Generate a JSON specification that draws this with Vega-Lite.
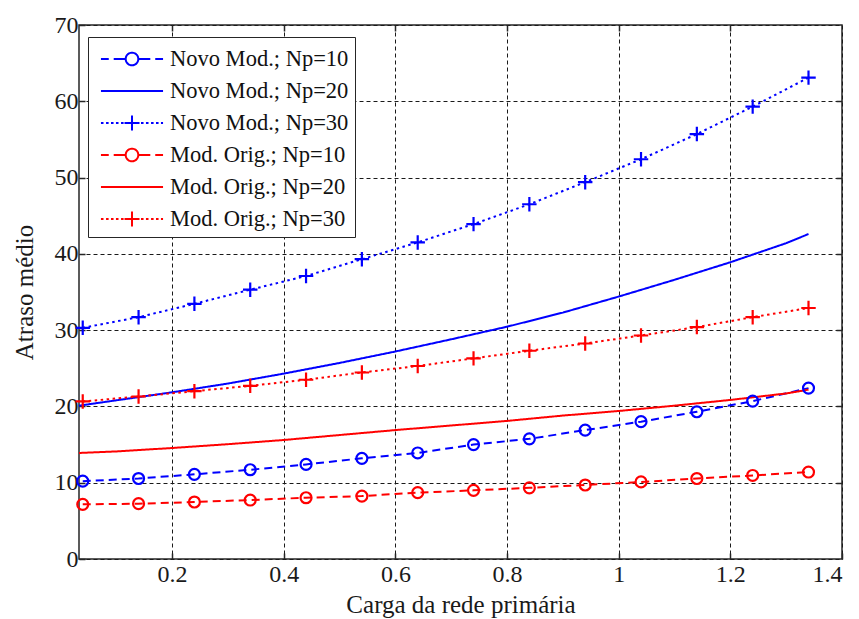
{
  "$schema": "https://vega.github.io/schema/vega-lite/v6.json",
  "width": 763,
  "height": 534,
  "autosize": {"type": "none"},
  "padding": {"left": 79, "top": 25, "right": 17, "bottom": 60},
  "background": "white",
  "config": {
    "font": "Liberation Serif",
    "view": {"stroke": "#262626", "strokeWidth": 1.5},
    "axis": {
      "labelFont": "Liberation Serif", "labelFontSize": 24, "labelColor": "#1a1a1a",
      "titleFont": "Liberation Serif", "titleFontSize": 25, "titleFontWeight": "normal", "titleColor": "#1a1a1a",
      "domain": false, "tickColor": "#262626", "tickSize": -6, "tickWidth": 1.5,
      "gridColor": "#1a1a1a", "gridDash": [4, 3], "gridWidth": 1, "gridOpacity": 1
    }
  },
  "data": {"values": [
    {"s": "Novo Mod.; Np=10", "x": 0.04, "y": 10.2},
    {"s": "Novo Mod.; Np=10", "x": 0.14, "y": 10.55},
    {"s": "Novo Mod.; Np=10", "x": 0.24, "y": 11.1},
    {"s": "Novo Mod.; Np=10", "x": 0.34, "y": 11.7},
    {"s": "Novo Mod.; Np=10", "x": 0.44, "y": 12.4},
    {"s": "Novo Mod.; Np=10", "x": 0.54, "y": 13.2},
    {"s": "Novo Mod.; Np=10", "x": 0.64, "y": 13.9},
    {"s": "Novo Mod.; Np=10", "x": 0.74, "y": 15.0},
    {"s": "Novo Mod.; Np=10", "x": 0.84, "y": 15.75},
    {"s": "Novo Mod.; Np=10", "x": 0.94, "y": 16.9},
    {"s": "Novo Mod.; Np=10", "x": 1.04, "y": 18.0},
    {"s": "Novo Mod.; Np=10", "x": 1.14, "y": 19.3},
    {"s": "Novo Mod.; Np=10", "x": 1.24, "y": 20.7},
    {"s": "Novo Mod.; Np=10", "x": 1.34, "y": 22.4},
    {"s": "Novo Mod.; Np=20", "x": 0.0333, "y": 20.1},
    {"s": "Novo Mod.; Np=20", "x": 0.1, "y": 20.8},
    {"s": "Novo Mod.; Np=20", "x": 0.2, "y": 21.85},
    {"s": "Novo Mod.; Np=20", "x": 0.3, "y": 23.0},
    {"s": "Novo Mod.; Np=20", "x": 0.4, "y": 24.3},
    {"s": "Novo Mod.; Np=20", "x": 0.5, "y": 25.7},
    {"s": "Novo Mod.; Np=20", "x": 0.6, "y": 27.2},
    {"s": "Novo Mod.; Np=20", "x": 0.7, "y": 28.8},
    {"s": "Novo Mod.; Np=20", "x": 0.8, "y": 30.45},
    {"s": "Novo Mod.; Np=20", "x": 0.9, "y": 32.3},
    {"s": "Novo Mod.; Np=20", "x": 1.0, "y": 34.4},
    {"s": "Novo Mod.; Np=20", "x": 1.1, "y": 36.6},
    {"s": "Novo Mod.; Np=20", "x": 1.2, "y": 38.9},
    {"s": "Novo Mod.; Np=20", "x": 1.3, "y": 41.4},
    {"s": "Novo Mod.; Np=20", "x": 1.34, "y": 42.6},
    {"s": "Novo Mod.; Np=30", "x": 0.04, "y": 30.3},
    {"s": "Novo Mod.; Np=30", "x": 0.14, "y": 31.7},
    {"s": "Novo Mod.; Np=30", "x": 0.24, "y": 33.45},
    {"s": "Novo Mod.; Np=30", "x": 0.34, "y": 35.3},
    {"s": "Novo Mod.; Np=30", "x": 0.44, "y": 37.1},
    {"s": "Novo Mod.; Np=30", "x": 0.54, "y": 39.3},
    {"s": "Novo Mod.; Np=30", "x": 0.64, "y": 41.5},
    {"s": "Novo Mod.; Np=30", "x": 0.74, "y": 43.9},
    {"s": "Novo Mod.; Np=30", "x": 0.84, "y": 46.5},
    {"s": "Novo Mod.; Np=30", "x": 0.94, "y": 49.4},
    {"s": "Novo Mod.; Np=30", "x": 1.04, "y": 52.4},
    {"s": "Novo Mod.; Np=30", "x": 1.14, "y": 55.7},
    {"s": "Novo Mod.; Np=30", "x": 1.24, "y": 59.3},
    {"s": "Novo Mod.; Np=30", "x": 1.34, "y": 63.1},
    {"s": "Mod. Orig.; Np=10", "x": 0.04, "y": 7.17},
    {"s": "Mod. Orig.; Np=10", "x": 0.14, "y": 7.25},
    {"s": "Mod. Orig.; Np=10", "x": 0.24, "y": 7.47},
    {"s": "Mod. Orig.; Np=10", "x": 0.34, "y": 7.73},
    {"s": "Mod. Orig.; Np=10", "x": 0.44, "y": 8.03},
    {"s": "Mod. Orig.; Np=10", "x": 0.54, "y": 8.25},
    {"s": "Mod. Orig.; Np=10", "x": 0.64, "y": 8.7},
    {"s": "Mod. Orig.; Np=10", "x": 0.74, "y": 9.0},
    {"s": "Mod. Orig.; Np=10", "x": 0.84, "y": 9.33},
    {"s": "Mod. Orig.; Np=10", "x": 0.94, "y": 9.7},
    {"s": "Mod. Orig.; Np=10", "x": 1.04, "y": 10.1},
    {"s": "Mod. Orig.; Np=10", "x": 1.14, "y": 10.55},
    {"s": "Mod. Orig.; Np=10", "x": 1.24, "y": 10.95},
    {"s": "Mod. Orig.; Np=10", "x": 1.34, "y": 11.4},
    {"s": "Mod. Orig.; Np=20", "x": 0.0333, "y": 13.9},
    {"s": "Mod. Orig.; Np=20", "x": 0.1, "y": 14.1},
    {"s": "Mod. Orig.; Np=20", "x": 0.2, "y": 14.55},
    {"s": "Mod. Orig.; Np=20", "x": 0.3, "y": 15.05},
    {"s": "Mod. Orig.; Np=20", "x": 0.4, "y": 15.6},
    {"s": "Mod. Orig.; Np=20", "x": 0.5, "y": 16.25},
    {"s": "Mod. Orig.; Np=20", "x": 0.6, "y": 16.9},
    {"s": "Mod. Orig.; Np=20", "x": 0.7, "y": 17.5},
    {"s": "Mod. Orig.; Np=20", "x": 0.8, "y": 18.1},
    {"s": "Mod. Orig.; Np=20", "x": 0.9, "y": 18.8},
    {"s": "Mod. Orig.; Np=20", "x": 1.0, "y": 19.4},
    {"s": "Mod. Orig.; Np=20", "x": 1.1, "y": 20.1},
    {"s": "Mod. Orig.; Np=20", "x": 1.2, "y": 20.85},
    {"s": "Mod. Orig.; Np=20", "x": 1.3, "y": 21.7},
    {"s": "Mod. Orig.; Np=20", "x": 1.34, "y": 22.2},
    {"s": "Mod. Orig.; Np=30", "x": 0.04, "y": 20.65},
    {"s": "Mod. Orig.; Np=30", "x": 0.14, "y": 21.3},
    {"s": "Mod. Orig.; Np=30", "x": 0.24, "y": 22.0},
    {"s": "Mod. Orig.; Np=30", "x": 0.34, "y": 22.7},
    {"s": "Mod. Orig.; Np=30", "x": 0.44, "y": 23.5},
    {"s": "Mod. Orig.; Np=30", "x": 0.54, "y": 24.45},
    {"s": "Mod. Orig.; Np=30", "x": 0.64, "y": 25.3},
    {"s": "Mod. Orig.; Np=30", "x": 0.74, "y": 26.3},
    {"s": "Mod. Orig.; Np=30", "x": 0.84, "y": 27.3},
    {"s": "Mod. Orig.; Np=30", "x": 0.94, "y": 28.25},
    {"s": "Mod. Orig.; Np=30", "x": 1.04, "y": 29.3},
    {"s": "Mod. Orig.; Np=30", "x": 1.14, "y": 30.4},
    {"s": "Mod. Orig.; Np=30", "x": 1.24, "y": 31.7},
    {"s": "Mod. Orig.; Np=30", "x": 1.34, "y": 32.9}
  ]},
  "layer": [
    {
      "mark": {"type": "line", "strokeWidth": 2},
      "encoding": {
        "x": {"field": "x", "type": "quantitative",
          "scale": {"domain": [0.0333, 1.4], "nice": false, "zero": false},
          "axis": {"values": [0.2, 0.4, 0.6, 0.8, 1, 1.2, 1.4], "format": "~g", "title": "Carga da rede primária", "grid": true, "labelPadding": 9, "titlePadding": 6}},
        "y": {"field": "y", "type": "quantitative",
          "scale": {"domain": [0, 70], "nice": false},
          "axis": {"values": [0, 10, 20, 30, 40, 50, 60, 70], "title": "Atraso médio", "grid": true, "labelPadding": 7, "titlePadding": 17}},
        "color": {"field": "s", "type": "nominal",
          "scale": {"domain": ["Novo Mod.; Np=10", "Novo Mod.; Np=20", "Novo Mod.; Np=30", "Mod. Orig.; Np=10", "Mod. Orig.; Np=20", "Mod. Orig.; Np=30"],
                    "range": ["#0000ff", "#0000ff", "#0000ff", "#ff0000", "#ff0000", "#ff0000"]},
          "legend": {
            "orient": "none", "legendX": 9, "legendY": 12, "title": null,
            "symbolSize": 900, "symbolStrokeWidth": 2,
            "labelFont": "Liberation Serif", "labelFontSize": 22.5, "labelColor": "#111111", "labelLimit": 400,
            "strokeColor": "#262626", "fillColor": "white", "padding": 6, "rowPadding": 4,
            "symbolOffset": 22, "labelOffset": 22,
            "encode": {"symbols": {"update": {
              "shape": {"signal": "indexof(datum.value, 'Np=10') >= 0 ? 'M-2.07,0H-1.55M-1.22,0H-0.42M0.42,0H1.22M1.55,0H2.07M0.42,0A0.42,0.42 0 1,1 -0.42,0A0.42,0.42 0 1,1 0.42,0' : (indexof(datum.value, 'Np=30') >= 0 ? 'M-2.07,0h0.17M-1.73,0h0.17M-1.4,0h0.17M-1.07,0h0.17M-0.73,0h0.17M-0.5,0H0.5M0,-0.5V0.5M0.6,0h0.17M0.93,0h0.17M1.27,0h0.17M1.6,0h0.17M1.93,0h0.14' : 'M-2.07,0H2.07')"},
              "strokeDash": {"value": [1, 0]},
              "fill": {"value": "transparent"},
              "strokeWidth": {"value": 2}
            }}}
          }},
        "strokeDash": {"field": "s", "type": "nominal",
          "scale": {"domain": ["Mod. Orig.; Np=10", "Mod. Orig.; Np=20", "Mod. Orig.; Np=30", "Novo Mod.; Np=10", "Novo Mod.; Np=20", "Novo Mod.; Np=30"],
                    "range": [[8, 5], [1, 0], [2.5, 3.5], [8, 5], [1, 0], [2.5, 3.5]]},
          "legend": null}
      }
    },
    {
      "transform": [{"filter": "indexof(datum.s, 'Np=20') < 0"}],
      "mark": {"type": "point", "filled": false, "strokeWidth": 2.2, "size": 120, "opacity": 1},
      "encoding": {
        "x": {"field": "x", "type": "quantitative", "axis": null},
        "y": {"field": "y", "type": "quantitative", "axis": null},
        "color": {"field": "s", "type": "nominal"},
        "shape": {"field": "s", "type": "nominal",
          "scale": {"domain": ["Novo Mod.; Np=10", "Novo Mod.; Np=30", "Mod. Orig.; Np=10", "Mod. Orig.; Np=30"],
                    "range": ["circle", "M-1.32,0H1.32M0,-1.32V1.32", "circle", "M-1.32,0H1.32M0,-1.32V1.32"]},
          "legend": null}
      }
    },
    {
      "mark": {"type": "point", "opacity": 0},
      "encoding": {
        "x": {"field": "x", "type": "quantitative",
          "axis": {"orient": "top", "values": [0.2, 0.4, 0.6, 0.8, 1, 1.2], "labels": false, "title": null, "grid": false}},
        "y": {"field": "y", "type": "quantitative",
          "axis": {"orient": "right", "values": [10, 20, 30, 40, 50, 60], "labels": false, "title": null, "grid": false}}
      }
    }
  ],
  "resolve": {"axis": {"x": "independent", "y": "independent"}}
}
